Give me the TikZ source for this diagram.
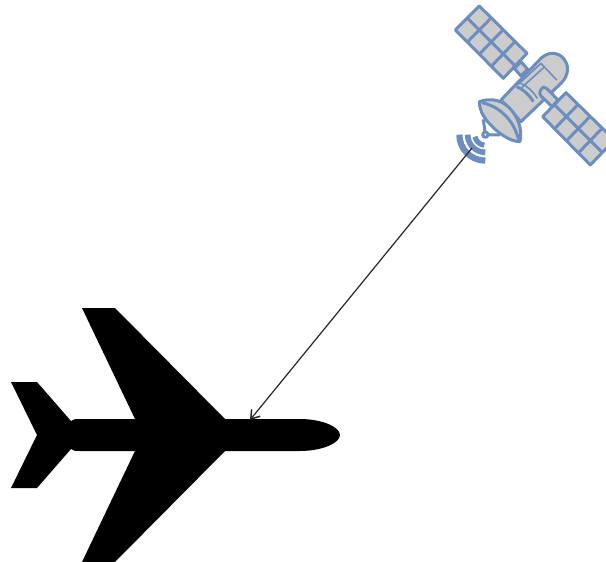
\documentclass[tikz,border=0pt]{standalone}
\usetikzlibrary{calc,arrows.meta}
\definecolor{satblue}{HTML}{6C8EBF}
\definecolor{satgray}{HTML}{CCCCCC}
\tikzset{
  satpart/.style={draw=satblue,fill=satgray,line width=3pt,line join=round},
  satline/.style={draw=satblue,line width=3pt},
  satfine/.style={draw=satblue,line width=1.6pt},
  wave/.style={draw=satblue,line cap=butt},
  link/.style={draw=black!85,line width=1.2pt,-{Straight Barb[length=8pt,width=11pt,line width=1.5pt]}}
}
\newcommand{\solarpanel}[4]{%
  \coordinate (pa) at (#1); \coordinate (pb) at (#2); \coordinate (pc) at (#3); \coordinate (pd) at (#4);
  \draw[satpart] (pa) -- (pb) -- (pc) -- (pd) -- cycle;
  \draw[satline] ($(pa)!.5!(pd)$) -- ($(pb)!.5!(pc)$);
  \foreach \t in {.25,.5,.75} \draw[satline] ($(pa)!\t!(pb)$) -- ($(pd)!\t!(pc)$);
}
\begin{document}
\begin{tikzpicture}[x=1pt,y=-1pt]
\useasboundingbox (0,0) rectangle (606,562);
\clip (0,0) rectangle (606,562);
% aeroplane
\fill[black] (82,308) -- (115,308) -- (225,419) -- (300,419)
  .. controls (322,419) and (340,427) .. (340,435)
  .. controls (340,443) and (322,451) .. (300,451)
  -- (225,451) -- (115,562) -- (82,562) -- (135,451) -- (80,451)
  .. controls (76,451) and (73,451) .. (71,449)
  -- (37,488) -- (11,488) -- (37,435) -- (11,382) -- (37,382) -- (71,421)
  .. controls (73,419) and (76,419) .. (80,419)
  -- (135,419) -- cycle;
% satellite
\begin{scope}[shift={(446,0)},x=0.3333pt,y=-0.3333pt]
  \solarpanel{100,18}{243,160}{172,235}{28,90}
  \solarpanel{360,278}{505,420}{433,495}{290,350}
  \draw[satpart] (205,205) -- (225,228) -- (245,208) -- (225,185) -- cycle;
  \draw[satpart] (165,300) -- (285,175)
    .. controls (305,155) and (335,155) .. (352,175)
    .. controls (370,195) and (370,225) .. (345,250)
    -- (225,365) -- cycle;
  \draw[satpart] (292,262) .. controls (282,268) and (278,280) .. (285,288)
    -- (318,320) -- (336,300) -- (305,268) .. controls (300,264) and (296,262) .. (292,262) -- cycle;
  \draw[satfine] (217,253) -- (285,190);
  \draw[satfine] (228,262) -- (296,200);
  \draw[satline] (212,260) .. controls (232,268) and (250,285) .. (262,305);
  \draw[satfine] (224,250) .. controls (244,258) and (262,275) .. (274,295);
  \draw[satfine] (285,190) -- (332,240);
  \draw[satpart] (100,305)
    .. controls (135,292) and (175,300) .. (200,335)
    .. controls (222,365) and (228,395) .. (222,425)
    .. controls (190,425) and (150,395) .. (125,365)
    .. controls (108,345) and (100,325) .. (100,305) -- cycle;
  \draw[satline] (108,308) .. controls (165,320) and (205,365) .. (218,420);
  \draw[satline] (118,404) -- (112,358);
  \draw[satline] (118,404) -- (162,405);
  \draw[satpart,fill=white] (118,404) circle[radius=8];
  \draw[wave,line width=6.2pt] (40,404) arc[start angle=180,end angle=90,radius=78];
  \draw[wave,line width=5.6pt] (65,404) arc[start angle=180,end angle=90,radius=53];
  \draw[wave,line width=5.2pt] (87,410) arc[start angle=170,end angle=95,radius=31];
\end{scope}
% link
\coordinate (satellite) at (472,148);
\coordinate (plane) at (250,420);
\draw[link] (satellite) -- (plane);
\end{tikzpicture}
\end{document}
